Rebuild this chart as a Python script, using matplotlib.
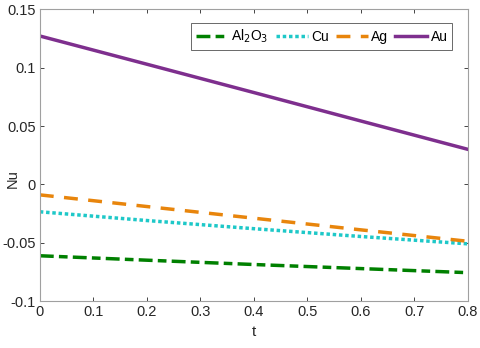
import numpy as np
import matplotlib
matplotlib.use("Agg")
import matplotlib.pyplot as plt

t = [0.0, 0.2, 0.4, 0.6, 0.8]
nu_al2o3 = [-0.0612, -0.0650, -0.0687, -0.0722, -0.0757]
nu_cu = [-0.0235, -0.0310, -0.0380, -0.0447, -0.0510]
nu_ag = [-0.0090, -0.0190, -0.0290, -0.0390, -0.0488]
nu_au = [0.1272, 0.1030, 0.0787, 0.0543, 0.0300]

plt.rcParams['font.family'] = ['Liberation Sans', 'DejaVu Sans']

fig = plt.figure(figsize=(4.8, 3.48), dpi=100)
ax = fig.add_axes([0.083, 0.135, 0.892, 0.838])

ax.plot(t, nu_al2o3, color="#008000", ls=(0, (4, 1.5, 2.5, 1.5)), lw=2.5, label="Al$_2$O$_3$")
ax.plot(t, nu_cu, color="#1ec8c8", ls=(0, (1, 0.8)), lw=2.5, label="Cu")
ax.plot(t, nu_ag, color="#e8850c", ls=(0, (4, 3)), lw=2.5, label="Ag")
ax.plot(t, nu_au, color="#7e2f8e", ls="-", lw=2.5, label="Au")

ax.set_xlim(0, 0.8)
ax.set_ylim(-0.1, 0.15)
ax.set_xticks(np.arange(0, 0.81, 0.1))
ax.set_xticklabels(["0", "0.1", "0.2", "0.3", "0.4", "0.5", "0.6", "0.7", "0.8"])
ax.set_yticks([-0.1, -0.05, 0, 0.05, 0.1, 0.15])
ax.set_yticklabels(["-0.1", "-0.05", "0", "0.05", "0.1", "0.15"])
ax.tick_params(direction="in", top=True, right=True, colors="#262626",
               labelsize=10.5, length=3, width=0.6, pad=3)
for s in ax.spines.values():
    s.set_color("#a0a0a0")
    s.set_linewidth(0.8)
ax.set_xlabel("t", fontsize=11, color="#262626", labelpad=4)
ax.set_ylabel("Nu", fontsize=10.5, color="#262626", ha="center", va="center")
ax.yaxis.set_label_coords(-0.063, 0.42)

leg = ax.legend(loc="upper right", ncol=4, fontsize=10, frameon=True, fancybox=False,
                handlelength=2.3, handletextpad=0.25, columnspacing=0.5,
                borderpad=0.35, bbox_to_anchor=(0.98, 0.978))
leg.get_frame().set_edgecolor("#262626")
leg.get_frame().set_linewidth(0.6)

fig.savefig("out.png", dpi=100)
